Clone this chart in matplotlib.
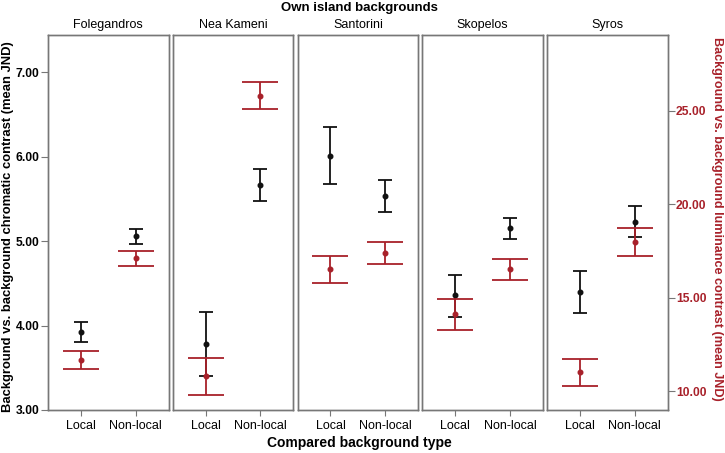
import matplotlib.pyplot as plt

plt.rcParams['font.family'] = ['Liberation Sans', 'DejaVu Sans']

islands = ['Folegandros', 'Nea Kameni', 'Santorini', 'Skopelos', 'Syros']
types = ['Local', 'Non-local']

# chromatic contrast (left axis, black): mean, lower, upper for Local / Non-local
chrom_mean = [[3.925, 5.055], [3.778, 5.664], [6.013, 5.534], [4.356, 5.154], [4.40, 5.23]]
chrom_low = [[3.81, 4.965], [3.40, 5.479], [5.68, 5.344], [4.107, 5.028], [4.154, 5.047]]
chrom_high = [[4.04, 5.14], [4.158, 5.85], [6.345, 5.728], [4.60, 5.278], [4.644, 5.41]]

# luminance contrast (right axis, red)
lum_mean = [[11.67, 17.13], [10.80, 25.81], [16.54, 17.41], [14.11, 16.52], [11.01, 18.0]]
lum_low = [[11.21, 16.70], [9.82, 25.11], [15.81, 16.82], [13.29, 15.95], [10.28, 17.25]]
lum_high = [[12.16, 17.53], [11.78, 26.52], [17.25, 18.0], [14.95, 17.09], [11.74, 18.73]]

red = '#a8212a'
frame = '#777777'

fig = plt.figure(figsize=(7.25, 4.53), dpi=100)
W, H = 725, 453
left0, top, bottom = 48, 35, 410
pw, gap = 120.5, 4.3

for i, name in enumerate(islands):
    x0 = left0 + i * (pw + gap)
    ax = fig.add_axes([x0 / W, 1 - bottom / H, pw / W, (bottom - top) / H])
    ax2 = ax.twinx()
    xs = [0, 1]
    ye = [[m - l for m, l in zip(chrom_mean[i], chrom_low[i])],
          [h - m for m, h in zip(chrom_mean[i], chrom_high[i])]]
    ax.errorbar(xs, chrom_mean[i], yerr=ye, fmt='o', color='#111111', ms=3.3,
                elinewidth=1.3, capsize=5.2, capthick=1.3, zorder=3)
    ye2 = [[m - l for m, l in zip(lum_mean[i], lum_low[i])],
           [h - m for m, h in zip(lum_mean[i], lum_high[i])]]
    ax2.errorbar(xs, lum_mean[i], yerr=ye2, fmt='o', color=red, ms=3.3,
                 elinewidth=1.3, capsize=13.3, capthick=1.3, zorder=3)
    ax.set_xlim(-0.6, 1.6)
    ax.set_ylim(3.0, 7.44)
    ax2.set_ylim(9.0, 29.06)
    ax.set_xticks(xs)
    ax.set_xticklabels(types, fontsize=9)
    ax.tick_params(axis='x', length=4, color=frame, pad=3)
    ax.set_title(name, fontsize=9, pad=5)
    for a in (ax, ax2):
        for s in a.spines.values():
            s.set_color(frame)
            s.set_linewidth(1.0)
    if i == 0:
        ax.set_yticks([3, 4, 5, 6, 7])
        ax.set_yticklabels(['%.2f' % v for v in [3, 4, 5, 6, 7]], fontsize=8.7, fontweight='bold')
        ax.tick_params(axis='y', length=5, color=frame, pad=1)
    else:
        ax.set_yticks([])
    if i == len(islands) - 1:
        ax2.set_yticks([10, 15, 20, 25])
        ax2.set_yticklabels(['%.2f' % v for v in [10, 15, 20, 25]], fontsize=8.7,
                            fontweight='bold', color=red)
        ax2.tick_params(axis='y', length=5, color=frame, pad=1)
    else:
        ax2.set_yticks([])

fig.text(8.5 / W, 1 - 226.5 / H, 'Background vs. background chromatic contrast (mean JND)',
         rotation=90, ha='center', va='center', fontsize=9.4, fontweight='bold')
fig.text(717 / W, 1 - 219 / H, 'Background vs. background luminance contrast (mean JND)',
         rotation=270, ha='center', va='center', fontsize=9.1, fontweight='bold', color=red)
fig.text((left0 + 671) / 2 / W, 1 - 8 / H, 'Own island backgrounds', ha='center', va='center',
         fontsize=9.5, fontweight='bold')
fig.text((left0 + 671) / 2 / W, 1 - 443 / H, 'Compared background type', ha='center', va='center',
         fontsize=10, fontweight='bold')

fig.savefig('out.png', dpi=100)
